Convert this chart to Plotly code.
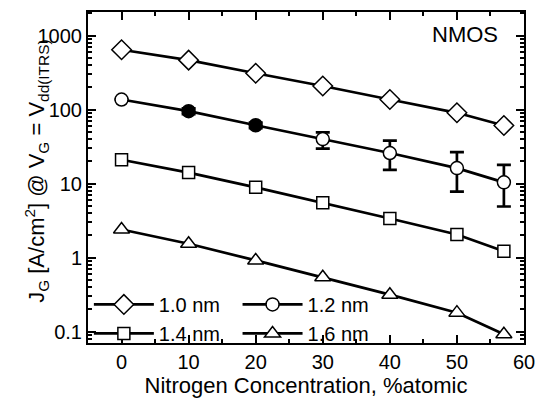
import plotly.graph_objects as go

nitrogen = [0, 10, 20, 30, 40, 50, 57]
j_10nm = [645, 467, 310, 209, 137, 90.6, 61]
j_12nm = [137, 95.4, 61.5, 40, 25.9, 16.2, 10.4]
j_12nm_hi = [137, 104, 67, 49.4, 38, 26.7, 17.9]
j_12nm_lo = [137, 87, 56, 29.7, 15.3, 7.8, 4.9]
j_14nm = [21, 14.1, 8.9, 5.5, 3.37, 2.05, 1.22]
j_16nm = [2.4, 1.54, 0.915, 0.543, 0.315, 0.18, 0.092]
y_tickvals = [0.1, 1, 10, 100, 1000]
y_ticktext = ["0.1", "1", "10", "100", "1000"]
x_tickvals = [0, 10, 20, 30, 40, 50, 60]

FONT = "Liberation Sans, Arial, sans-serif"
fig = go.Figure()

err_plus = [h - v for h, v in zip(j_12nm_hi, j_12nm)]
err_minus = [v - l for v, l in zip(j_12nm, j_12nm_lo)]
circle_fill = ["black" if x in (10, 20) else "white" for x in nitrogen]

common_line = dict(color="black", width=2.7)

fig.add_trace(go.Scatter(
    x=nitrogen, y=j_10nm, name="1.0 nm", mode="lines+markers",
    line=common_line,
    marker=dict(symbol="diamond", size=15, color="white", line=dict(color="black", width=1.5)),
    legend="legend", legendgroup="a"))
fig.add_trace(go.Scatter(
    x=nitrogen, y=j_14nm, name="1.4 nm", mode="lines+markers",
    line=common_line,
    marker=dict(symbol="square", size=12, color="white", line=dict(color="black", width=1.5)),
    legend="legend", legendgroup="b"))
fig.add_trace(go.Scatter(
    x=nitrogen, y=j_12nm, name="1.2 nm", mode="lines+markers",
    line=common_line,
    error_y=dict(type="data", symmetric=False, array=err_plus, arrayminus=err_minus,
                 color="black", thickness=2.7, width=7),
    marker=dict(symbol="circle", size=13, color=circle_fill, line=dict(color="black", width=1.5)),
    legend="legend2", legendgroup="c"))
fig.add_trace(go.Scatter(
    x=nitrogen, y=j_16nm, name="1.6 nm", mode="lines+markers",
    line=common_line,
    marker=dict(symbol="triangle-up", size=14, color="white", line=dict(color="black", width=1.5)),
    legend="legend2", legendgroup="d"))

leg_common = dict(font=dict(family=FONT, size=20, color="black"), bgcolor="rgba(0,0,0,0)",
                  itemwidth=60, tracegroupgap=0, yanchor="bottom", xanchor="left",
                  itemclick=False, itemdoubleclick=False)
fig.update_layout(
    legend=dict(x=0.002, y=-0.03, **leg_common),
    legend2=dict(x=0.343, y=-0.03, **leg_common),
)

fig.add_annotation(text="NMOS", xref="paper", yref="paper", x=0.945, y=0.975,
                   xanchor="right", yanchor="top", showarrow=False,
                   font=dict(family=FONT, size=22, color="black"))

fig.add_annotation(text="J<sub>G</sub> [A/cm<sup>2</sup>] @ V<sub>G</sub> = V<sub>dd(ITRS)</sub>",
                   xref="paper", yref="paper", x=-0.117, y=0.52, textangle=-90,
                   xanchor="center", yanchor="middle", showarrow=False,
                   font=dict(family=FONT, size=22, color="black"))

axis_common = dict(showline=True, linecolor="black", linewidth=2, mirror="allticks",
                   ticks="inside", tickcolor="black", tickwidth=2, showgrid=False, zeroline=False,
                   tickfont=dict(family=FONT, size=20, color="black"))

fig.update_xaxes(range=[-5, 60], tickvals=x_tickvals, ticklen=8,
                 minor=dict(ticks="inside", dtick=5, ticklen=4, tickwidth=2, tickcolor="black", showgrid=False),
                 title=dict(text="Nitrogen Concentration, %atomic", font=dict(family=FONT, size=22, color="black"), standoff=3),
                 **axis_common)
fig.update_yaxes(type="log", range=[-1.155, 3.32], tickvals=y_tickvals, ticktext=y_ticktext, ticklen=8,
                 minor=dict(ticks="inside", dtick="D1", ticklen=4, tickwidth=1.5, tickcolor="black", showgrid=False),
                 **axis_common)

fig.update_layout(
    width=545, height=401,
    margin=dict(l=88, r=13, t=10, b=47),
    paper_bgcolor="white", plot_bgcolor="white",
    font=dict(family=FONT, color="black"),
)

fig.write_html("out.html")
